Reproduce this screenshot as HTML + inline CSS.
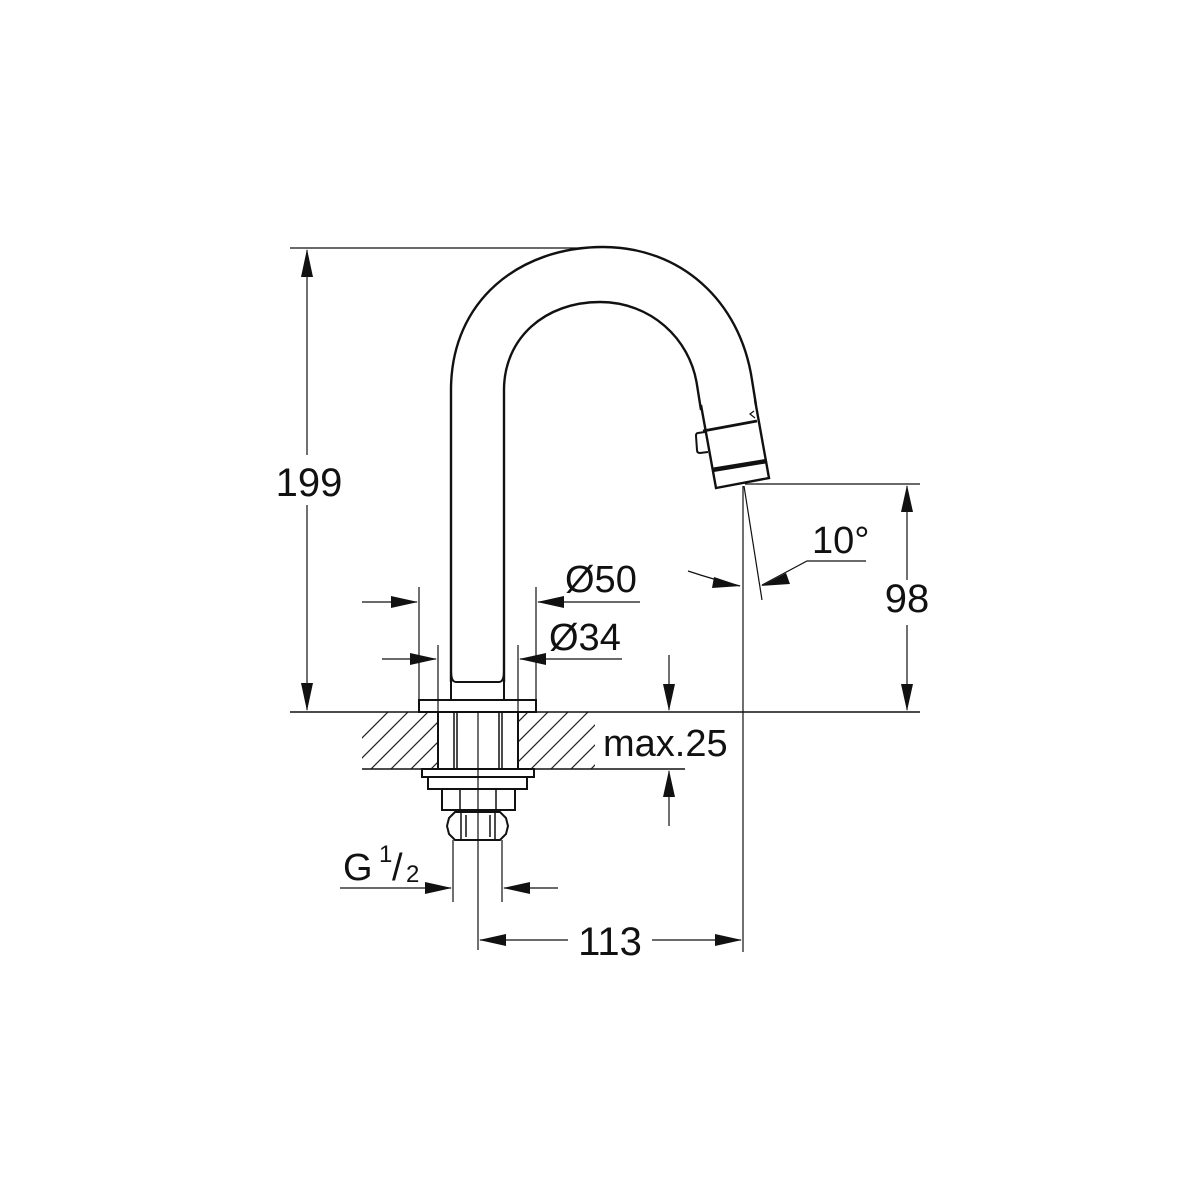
<!DOCTYPE html>
<html><head><meta charset="utf-8"><style>
html,body{margin:0;padding:0;background:#fff;width:1200px;height:1200px;overflow:hidden}
svg text{font-family:"Liberation Sans",sans-serif;fill:#111}
</style></head><body>
<svg width="1200" height="1200" viewBox="0 0 1200 1200" xmlns="http://www.w3.org/2000/svg">
<defs>
<clipPath id="hl"><rect x="362" y="712" width="76" height="57"/></clipPath>
<clipPath id="hr"><rect x="518" y="712" width="77" height="57"/></clipPath>
<g id="hatch" stroke="#222" stroke-width="1.2">
<line x1="300" y1="800" x2="400" y2="700"/><line x1="320" y1="800" x2="420" y2="700"/><line x1="340" y1="800" x2="440" y2="700"/><line x1="360" y1="800" x2="460" y2="700"/><line x1="380" y1="800" x2="480" y2="700"/><line x1="400" y1="800" x2="500" y2="700"/><line x1="420" y1="800" x2="520" y2="700"/><line x1="440" y1="800" x2="540" y2="700"/><line x1="460" y1="800" x2="560" y2="700"/><line x1="480" y1="800" x2="580" y2="700"/><line x1="500" y1="800" x2="600" y2="700"/><line x1="520" y1="800" x2="620" y2="700"/><line x1="540" y1="800" x2="640" y2="700"/><line x1="560" y1="800" x2="660" y2="700"/><line x1="580" y1="800" x2="680" y2="700"/>
</g>
</defs>
<g fill="none" stroke="#111">
<g clip-path="url(#hl)"><use href="#hatch"/></g>
<g clip-path="url(#hr)"><use href="#hatch"/></g>
<line x1="290" y1="712" x2="920" y2="712" stroke-width="1.5"/>
<line x1="362" y1="769" x2="438" y2="769" stroke-width="1.5"/>
<line x1="518" y1="769" x2="685" y2="769" stroke-width="1.5"/>
<path d="M451,682 L451,390 C451,300 520,247 603,247 C680,247 740,300 752,380 L756,405" stroke-width="2.4"/>
<path d="M504,682 L504,390 C504,338 545,302 600,302 C650,302 690,338 697,385 L701,410" stroke-width="2.4"/>
<path d="M701,405 L716,488 L769,478 L755,400" stroke-width="2.4"/>
<line x1="703" y1="431" x2="757" y2="421" stroke-width="2.8"/>
<line x1="712" y1="470" x2="767" y2="461" stroke-width="4.5"/>
<path d="M705,432 L698,433 Q696,433 696,436 L697,450 Q697,453 700,453 L708,452" stroke-width="2"/>
<path d="M754,411 L750,414 L755,418" stroke-width="1.2"/>
<path d="M451,670 Q451,682 456,682 L499,682 Q504,682 504,670" stroke-width="2"/>
<line x1="451" y1="682" x2="451" y2="700" stroke-width="2"/>
<line x1="504" y1="682" x2="504" y2="700" stroke-width="2"/>
<rect x="419" y="700" width="117" height="12" stroke-width="2"/>
<rect x="438" y="712" width="80" height="57" stroke-width="2"/>
<line x1="454" y1="712" x2="454" y2="769" stroke-width="1.5"/>
<line x1="457" y1="712" x2="457" y2="769" stroke-width="1.5"/>
<line x1="499" y1="712" x2="499" y2="769" stroke-width="1.5"/>
<line x1="502" y1="712" x2="502" y2="769" stroke-width="1.5"/>
<line x1="478" y1="712" x2="478" y2="950" stroke-width="1.2"/>
<rect x="422" y="769" width="112" height="8" stroke-width="2"/>
<rect x="428" y="777" width="99" height="12" stroke-width="2"/>
<rect x="442" y="789" width="73" height="21" stroke-width="2"/>
<line x1="460" y1="789" x2="460" y2="810" stroke-width="1.5"/>
<line x1="496" y1="789" x2="496" y2="810" stroke-width="1.5"/>
<path d="M455,812 L500,812 L506,818 L508,826 L506,834 L500,840 L455,840 L449,834 L447,826 L449,818 Z" stroke-width="2"/>
<line x1="461" y1="813" x2="461" y2="839" stroke-width="1.5"/>
<line x1="466" y1="815" x2="466" y2="837" stroke-width="1.5"/>
<line x1="490" y1="815" x2="490" y2="837" stroke-width="1.5"/>
<line x1="495" y1="813" x2="495" y2="839" stroke-width="1.5"/>
<line x1="453" y1="840" x2="453" y2="902" stroke-width="1.2"/>
<line x1="502" y1="840" x2="502" y2="902" stroke-width="1.2"/>
<line x1="290" y1="248" x2="585" y2="248" stroke-width="1.2"/>
<line x1="307" y1="250" x2="307" y2="455" stroke-width="1.2"/>
<line x1="307" y1="505" x2="307" y2="710" stroke-width="1.2"/>
<line x1="745" y1="484" x2="920" y2="484" stroke-width="1.2"/>
<line x1="907" y1="486" x2="907" y2="580" stroke-width="1.2"/>
<line x1="907" y1="625" x2="907" y2="710" stroke-width="1.2"/>
<line x1="743" y1="486" x2="743" y2="952" stroke-width="1.2"/>
<line x1="744" y1="486" x2="762" y2="600" stroke-width="1.2"/>
<path d="M688,571 Q715,580 740,586" stroke-width="1.2"/>
<polyline points="762,585 807,561 866,561" stroke-width="1.2"/>
<line x1="669" y1="655" x2="669" y2="710" stroke-width="1.2"/>
<line x1="669" y1="771" x2="669" y2="826" stroke-width="1.2"/>
<line x1="419" y1="587" x2="419" y2="700" stroke-width="1.2"/>
<line x1="536" y1="587" x2="536" y2="700" stroke-width="1.2"/>
<line x1="362" y1="602" x2="417" y2="602" stroke-width="1.2"/>
<line x1="538" y1="602" x2="640" y2="602" stroke-width="1.2"/>
<line x1="438" y1="645" x2="438" y2="712" stroke-width="1.2"/>
<line x1="518" y1="645" x2="518" y2="712" stroke-width="1.2"/>
<line x1="382" y1="659" x2="436" y2="659" stroke-width="1.2"/>
<line x1="520" y1="659" x2="622" y2="659" stroke-width="1.2"/>
<line x1="340" y1="888" x2="451" y2="888" stroke-width="1.2"/>
<line x1="504" y1="888" x2="558" y2="888" stroke-width="1.2"/>
<line x1="480" y1="940" x2="568" y2="940" stroke-width="1.2"/>
<line x1="652" y1="940" x2="741" y2="940" stroke-width="1.2"/>
</g>
<g fill="#111">
<polygon points="307,249 301,277 313,277"/>
<polygon points="307,711 301,683 313,683"/>
<polygon points="907,485 901,512 913,512"/>
<polygon points="907,711 901,684 913,684"/>
<polygon points="669,711 663,684 675,684"/>
<polygon points="669,770 663,797 675,797"/>
<polygon points="418,602 391,596 391,608"/>
<polygon points="537,602 564,596 564,608"/>
<polygon points="437,659 410,653 410,665"/>
<polygon points="519,659 546,653 546,665"/>
<polygon points="452,888 425,882 425,894"/>
<polygon points="503,888 530,882 530,894"/>
<polygon points="479,940 506,934 506,946"/>
<polygon points="742,940 715,934 715,946"/>
<polygon points="741,586 714,577 712,588"/>
<polygon points="761,586 786,573 790,584"/>
</g>
<g font-size="40">
<text x="309" y="496" text-anchor="middle">199</text>
<text x="907" y="612" text-anchor="middle">98</text>
<text x="610" y="955" text-anchor="middle">113</text>
</g>
<g font-size="38">
<text x="565" y="592">Ø50</text>
<text x="549" y="650">Ø34</text>
<text x="603" y="756">max.25</text>
<text x="812" y="553">10°</text>
<text x="343" y="880">G</text>
<text x="379" y="862" font-size="24">1</text>
<text x="392" y="880">/</text>
<text x="406" y="882" font-size="24">2</text>
</g>
</svg>
</body></html>
